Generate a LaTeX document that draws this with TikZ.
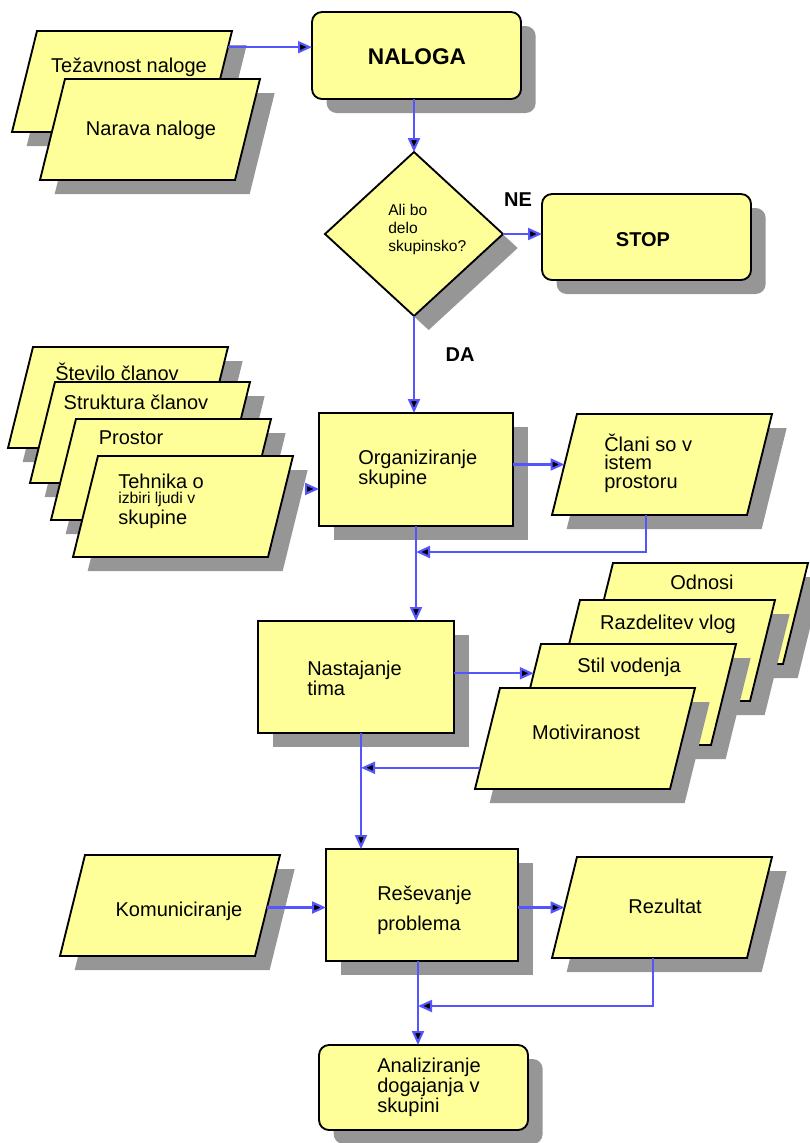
\documentclass[tikz,border=0pt]{standalone}
\usepackage{fontspec}
\setmainfont{Liberation Sans}
\usetikzlibrary{shapes.geometric,shadows,arrows.meta,calc}
\definecolor{boxfill}{HTML}{FFFF99}
\definecolor{shadowgray}{HTML}{969696}
\definecolor{linkblue}{HTML}{5555FF}
\newcommand\upx{0.75pt}

\tikzset{
  shade box/.style={drop shadow={shadow xshift=11pt, shadow yshift=-10.5pt, fill=shadowgray, opacity=1}},
  base/.style={draw=black, line width=1.4pt, fill=boxfill, inner sep=0pt, outer sep=0pt, shade box},
  block/.style={base, rectangle},
  roundblock/.style={base, rectangle, rounded corners=7.5pt},
  decision/.style={base, diamond, aspect=1},
  pgbody/.style={rectangle, inner sep=0pt, outer sep=0pt, minimum width=195*\upx, minimum height=101*\upx},
  pgline/.style={draw=black, line width=1.4pt, fill=boxfill, line join=miter, shade box},
  txt/.style={inner sep=0pt, font=\fontsize{15}{18}\selectfont},
  boldtxt/.style={inner sep=0pt, font=\bfseries\fontsize{15}{18}\selectfont},
  conn/.style={draw=linkblue, line width=1.6pt, -{Triangle[length=10.5pt,width=9pt,fill=black]}},
}

% slanted input/output box: name, centre x, centre y (in px)
\newcommand\pgramat[3]{%
  \node[pgbody] (#1) at (#2,#3) {};
  \coordinate (#1-tl) at ($(#1.north west)+(12.5,0)$);
  \coordinate (#1-tr) at ($(#1.north east)+(12.5,0)$);
  \coordinate (#1-br) at ($(#1.south east)+(-12.5,0)$);
  \coordinate (#1-bl) at ($(#1.south west)+(-12.5,0)$);
  \path[pgline] (#1-tl) -- (#1-tr) -- (#1-br) -- (#1-bl) -- cycle;
}

\begin{document}
\begin{tikzpicture}[x=0.75pt,y=-0.75pt]
\useasboundingbox (0,0) rectangle (810,1143);

% task inputs
\pgramat{tez}{122}{81.5}
\node[txt] (tez-t) at (129,67) {Težavnost naloge};
\pgramat{narava}{150}{129.5}
\node[txt] (narava-t) at (151,130) {Narava naloge};

% task and decision
\node[roundblock, minimum width=209*\upx, minimum height=87*\upx] (naloga) at (416.5,55.5) {};
\node[inner sep=0pt, font=\bfseries\fontsize{17}{20}\selectfont] (naloga-t) at (417,57) {NALOGA};

\node[decision, minimum width=178*\upx, minimum height=164*\upx] (dia) at (414,234) {};
\node[inner sep=0pt, font=\fontsize{11.7}{13.5}\selectfont, align=left, anchor=west] (dia-t) at (388,229) {Ali bo\\delo\\skupinsko?};

\node[roundblock, minimum width=209*\upx, minimum height=86*\upx] (stop) at (646.5,237) {};
\node[boldtxt] (stop-t) at (643,240) {STOP};
\node[boldtxt] (ne) at (518,200) {NE};
\node[boldtxt] (da) at (460,355) {DA};

% group organisation factors
\pgramat{stevilo}{118}{397.5}
\node[txt] (stevilo-t) at (117,372) {Število članov};
\pgramat{struktura}{140}{432.5}
\node[txt] (struktura-t) at (136,402) {Struktura članov};
\pgramat{prostor}{161}{469.5}
\node[txt] (prostor-t) at (131,438) {Prostor};
\pgramat{tehnika}{183}{506.5}
\node[inner sep=0pt, font=\fontsize{15}{14}\selectfont, align=left, anchor=west] (tehnika-t) at (118,501)
  {Tehnika o\\[-2.75pt]{\fontsize{11.8}{12}\selectfont izbiri ljudi v}\\[1.5pt]skupine};

\node[block, minimum width=194*\upx, minimum height=113*\upx] (org) at (416,469.5) {};
\node[inner sep=0pt, font=\fontsize{15}{11.5}\selectfont, align=left, anchor=west] (org-t) at (358,469.5) {Organiziranje\\skupine};

\pgramat{clani}{662}{464.5}
\node[inner sep=0pt, font=\fontsize{15}{14}\selectfont, align=left, anchor=west] (clani-t) at (604,463) {Člani so v\\istem\\prostoru};

% team formation
\node[block, minimum width=196*\upx, minimum height=112*\upx] (nast) at (356,677) {};
\node[inner sep=0pt, font=\fontsize{15}{13.5}\selectfont, align=left, anchor=west] (nast-t) at (307,678) {Nastajanje\\tima};

\pgramat{odnosi}{698}{613.5}
\node[txt] (odnosi-t) at (702,582) {Odnosi};
\pgramat{razdelitev}{665}{650.5}
\node[txt] (razdelitev-t) at (668,624) {Razdelitev vlog};
\pgramat{stil}{626}{694.5}
\node[txt] (stil-t) at (629,667) {Stil vodenja};
\pgramat{motiv}{585}{738.5}
\node[txt] (motiv-t) at (586,732) {Motiviranost};

% problem solving
\pgramat{komun}{170}{905.5}
\node[txt] (komun-t) at (179,911) {Komuniciranje};
\node[block, minimum width=192*\upx, minimum height=112*\upx] (resev) at (422,905) {};
\node[inner sep=0pt, font=\fontsize{15}{22.5}\selectfont, align=left, anchor=west] (resev-t) at (377,910) {Reševanje\\problema};
\pgramat{rez}{662}{907.5}
\node[txt] (rez-t) at (665,906) {Rezultat};

\node[roundblock, minimum width=209*\upx, minimum height=85*\upx] (anal) at (423.5,1087.5) {};
\node[inner sep=0pt, font=\fontsize{15}{13.9}\selectfont, align=left, anchor=west] (anal-t) at (377,1087) {Analiziranje\\dogajanja v\\skupini};

% connectors
\draw[conn] ($(tez-tr)!0.16!(tez-br)$) coordinate (tezout) -- (tezout -| naloga.west);
\draw[conn] (naloga.south -| dia.north) -- (dia.north);
\draw[conn] (dia.east) -- (dia.east -| stop.west);
\draw[conn] (dia.south) -- (dia.south |- org.north);
\coordinate (tehout) at (306,489);
\draw[conn] (tehout) -- (tehout -| org.west);
\coordinate (clin) at ($(clani-tl)!0.5!(clani-bl)$);
\draw[conn] (org.east |- clin) -- (clin);
\coordinate (fbA) at (416,552);
\draw[conn] ($(clani-bl)!0.48!(clani-br)$) |- (fbA);
\draw[conn] (org.south) -- (org.south |- nast.north);
\coordinate (stilin) at ($(stil-tl)!0.29!(stil-bl)$);
\draw[conn] (nast.east |- stilin) -- (stilin);
\coordinate (nastout) at ([xshift=3.75pt]nast.south);
\draw[conn] ($(motiv-tl)!0.79!(motiv-bl)$) coordinate (motout) -- (motout -| nastout);
\draw[conn] (nastout) -- (nastout |- resev.north);
\draw[conn] ($(komun-tr)!0.52!(komun-br)$) coordinate (komout) -- (komout -| resev.west);
\coordinate (rezin) at ($(rez-tl)!0.5!(rez-bl)$);
\draw[conn] (resev.east |- rezin) -- (rezin);
\coordinate (resout) at ([xshift=-3pt]resev.south);
\coordinate (fbB) at (resout |- 0,1006);
\draw[conn] ($(rez-bl)!0.52!(rez-br)$) |- (fbB);
\draw[conn] (resout) -- (resout |- anal.north);
\end{tikzpicture}
\end{document}
